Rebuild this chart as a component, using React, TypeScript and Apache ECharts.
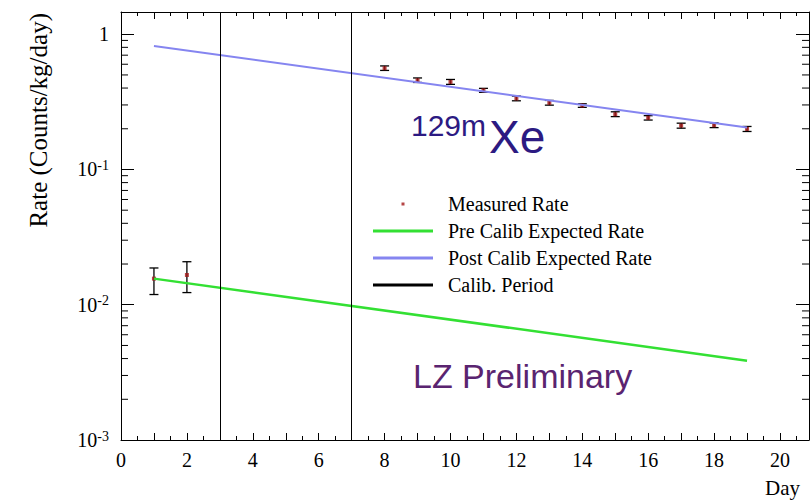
import React, { useEffect, useRef } from "react";
import * as echarts from "echarts";

// ---- data ----
const measuredX = [1, 2, 8, 9, 10, 11, 12, 13, 14, 15, 16, 17, 18, 19];
const measuredY = [0.0156, 0.0166, 0.561, 0.457, 0.444, 0.385, 0.335, 0.311, 0.297, 0.256, 0.241, 0.211, 0.2125, 0.1995];
const measuredLow = [0.0119, 0.0123, 0.54, 0.44, 0.426, 0.372, 0.322, 0.299, 0.288, 0.246, 0.232, 0.202, 0.204, 0.191];
const measuredHigh = [0.0187, 0.0208, 0.583, 0.475, 0.463, 0.398, 0.349, 0.324, 0.306, 0.267, 0.25, 0.22, 0.221, 0.208];
const preCalibX = [1, 19];
const preCalibY = [0.0156, 0.00386];
const postCalibX = [1, 19];
const postCalibY = [0.82, 0.204];
const calibPeriodX = [3, 7];
const yMinorTicks = [
  0.002, 0.003, 0.004, 0.005, 0.006, 0.007, 0.008, 0.009,
  0.02, 0.03, 0.04, 0.05, 0.06, 0.07, 0.08, 0.09,
  0.2, 0.3, 0.4, 0.5, 0.6, 0.7, 0.8, 0.9,
];
const legendNames = ["Measured Rate", "Pre Calib Expected Rate", "Post Calib Expected Rate", "Calib. Period"];

const X_MIN = 0;
const X_MAX = 20.88;
const Y_MIN = 0.001;
const Y_MAX = 1.46;

const SERIF = "Liberation Serif";
const SANS = "Liberation Sans";

export default function App() {
  const ref = useRef<HTMLDivElement>(null);

  useEffect(() => {
    if (!ref.current) return;
    const chart = echarts.init(ref.current, null, { renderer: "svg" });

    const xLabelFormatter = (v: number) => {
      const r = Math.round(v);
      if (Math.abs(v - r) > 1e-6 || r % 2 !== 0) return "";
      return String(r);
    };
    const yLabelFormatter = (v: number) => {
      const l = Math.log10(v);
      const e = Math.round(l);
      if (Math.abs(l - e) > 1e-6) return "";
      if (e === 0) return "{b|1}";
      return `{b|10}{s|${e}}`;
    };

    const baseXAxis = {
      type: "value",
      min: X_MIN,
      max: X_MAX,
      interval: 1,
      splitLine: { show: false },
      axisLine: { show: true, onZero: false, lineStyle: { color: "#000", width: 1 } },
      axisTick: { show: true, inside: true, length: 7, lineStyle: { color: "#000", width: 1 } },
      minorTick: { show: true, splitNumber: 2, length: 4, lineStyle: { color: "#000", width: 1 } },
    };
    const baseYAxis = {
      type: "log",
      logBase: 10,
      min: Y_MIN,
      max: Y_MAX,
      splitLine: { show: false },
      axisLine: { show: true, onZero: false, lineStyle: { color: "#000", width: 1 } },
      axisTick: { show: true, inside: true, length: 13, lineStyle: { color: "#000", width: 1 } },
    };

    const option: any = {
      animation: false,
      textStyle: { fontFamily: SERIF },
      grid: { left: 121, top: 12, right: 1, bottom: 61, containLabel: false },
      xAxis: [
        {
          ...baseXAxis,
          position: "bottom",
          axisLabel: {
            show: true,
            formatter: xLabelFormatter,
            fontFamily: SERIF,
            fontSize: 20,
            color: "#000",
            margin: 10,
            showMaxLabel: false,
          },
        },
        { ...baseXAxis, position: "top", axisLabel: { show: false } },
      ],
      yAxis: [
        {
          ...baseYAxis,
          position: "left",
          axisLabel: {
            show: true,
            formatter: yLabelFormatter,
            margin: 12,
            showMaxLabel: false,
            rich: {
              b: { fontFamily: SERIF, fontSize: 20, color: "#000", lineHeight: 22 },
              s: { fontFamily: SERIF, fontSize: 14, color: "#000", verticalAlign: "top", lineHeight: 14 },
            },
          },
        },
        { ...baseYAxis, position: "right", axisLabel: { show: false } },
      ],
      legend: {
        orient: "vertical",
        align: "left",
        left: 368,
        top: 189,
        padding: 5,
        itemWidth: 60,
        itemHeight: 3,
        itemGap: 7,
        selectedMode: false,
        itemStyle: { borderWidth: 0 },
        formatter: (name: string) => `{t|${name}}`,
        textStyle: {
          fontFamily: SERIF,
          fontSize: 20,
          color: "#000",
          lineHeight: 20,
          rich: { t: { fontFamily: SERIF, fontSize: 20, color: "#000", lineHeight: 20, padding: [0, 0, 0, 10] } },
        },
        data: [
          { name: legendNames[0], icon: "path://M0,0L1,0L1,1L0,1Z" },
          { name: legendNames[1], icon: "rect" },
          { name: legendNames[2], icon: "rect" },
          { name: legendNames[3], icon: "rect" },
        ],
      },
      series: [
        {
          name: "Measured Rate error",
          type: "custom",
          silent: true,
          clip: false,
          encode: { x: 0, y: [1, 2] },
          data: measuredX.map((x, i) => [x, measuredLow[i], measuredHigh[i]]),
          renderItem: (params: any, api: any) => {
            const x = api.value(0);
            const lo = api.coord([x, api.value(1)]);
            const hi = api.coord([x, api.value(2)]);
            const w = 4.5;
            const st = { stroke: "#000", lineWidth: 1.3 };
            return {
              type: "group",
              children: [
                { type: "line", shape: { x1: lo[0], y1: lo[1], x2: hi[0], y2: hi[1] }, style: st },
                { type: "line", shape: { x1: lo[0] - w, y1: lo[1], x2: lo[0] + w, y2: lo[1] }, style: st },
                { type: "line", shape: { x1: hi[0] - w, y1: hi[1], x2: hi[0] + w, y2: hi[1] }, style: st },
              ],
            };
          },
        },
        {
          name: legendNames[0],
          type: "scatter",
          symbol: "rect",
          symbolSize: 4,
          color: "#a31616",
          itemStyle: { color: "#a31616" },
          data: measuredX.map((x, i) => [x, measuredY[i]]),
        },
        {
          name: legendNames[1],
          type: "line",
          color: "#33e033",
          symbol: "none",
          showSymbol: false,
          lineStyle: { color: "#33e033", width: 2.5 },
          data: preCalibX.map((x, i) => [x, preCalibY[i]]),
        },
        {
          name: legendNames[2],
          type: "line",
          color: "#8585f0",
          symbol: "none",
          showSymbol: false,
          lineStyle: { color: "#8585f0", width: 2 },
          data: postCalibX.map((x, i) => [x, postCalibY[i]]),
        },
        {
          name: legendNames[3],
          type: "line",
          color: "#000",
          symbol: "none",
          data: [],
          markLine: {
            silent: true,
            symbol: "none",
            label: { show: false },
            lineStyle: { color: "#000", width: 1, type: "solid" },
            data: calibPeriodX.map((x) => ({ xAxis: x })),
          },
        },
        {
          name: "minor ticks",
          type: "custom",
          silent: true,
          clip: false,
          data: yMinorTicks.map((v) => [X_MIN, v]),
          renderItem: (params: any, api: any) => {
            const v = api.value(1);
            const l = api.coord([X_MIN, v]);
            const r = api.coord([X_MAX, v]);
            const st = { stroke: "#000", lineWidth: 1 };
            return {
              type: "group",
              children: [
                { type: "line", shape: { x1: l[0], y1: l[1], x2: l[0] + 7, y2: l[1] }, style: st },
                { type: "line", shape: { x1: r[0] - 7, y1: r[1], x2: r[0], y2: r[1] }, style: st },
              ],
            };
          },
        },
      ],
      graphic: [
        {
          type: "text",
          x: 38,
          y: 13,
          rotation: Math.PI / 2,
          style: {
            text: "Rate (Counts/kg/day)",
            fontFamily: SERIF,
            fontSize: 25,
            fill: "#000",
            align: "right",
            verticalAlign: "middle",
          },
        },
        {
          type: "text",
          x: 800,
          y: 488,
          style: { text: "Day", fontFamily: SERIF, fontSize: 21, fill: "#000", align: "right", verticalAlign: "middle" },
        },
        {
          type: "text",
          x: 411,
          y: 125,
          style: { text: "129m", fontFamily: SANS, fontSize: 30, fill: "#2c1a82", align: "left", verticalAlign: "middle" },
        },
        {
          type: "text",
          x: 489,
          y: 137,
          style: { text: "Xe", fontFamily: SANS, fontSize: 46, fill: "#2c1a82", align: "left", verticalAlign: "middle" },
        },
        {
          type: "text",
          x: 413,
          y: 376,
          style: { text: "LZ Preliminary", fontFamily: SANS, fontSize: 34, fill: "#5a2470", align: "left", verticalAlign: "middle" },
        },
      ],
    };

    chart.setOption(option);
    return () => chart.dispose();
  }, []);

  return (
    <div
      ref={ref}
      style={{ position: "absolute", left: 0, top: 0, width: 810, height: 501, background: "#fff" }}
    />
  );
}
